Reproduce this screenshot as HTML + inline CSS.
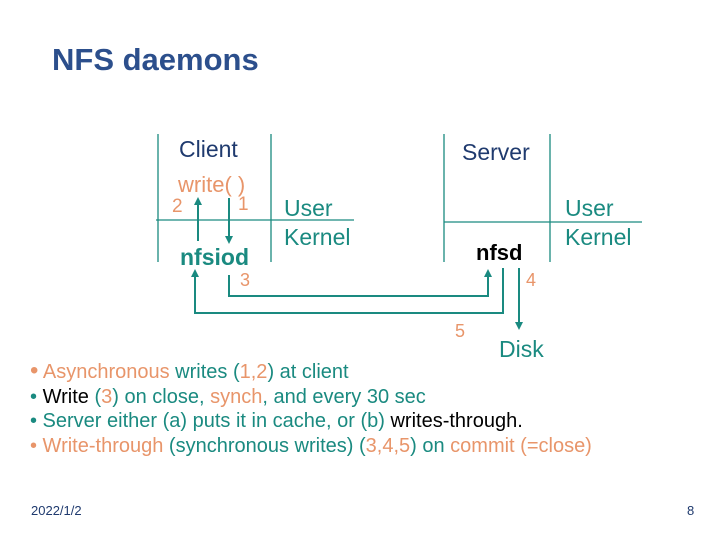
<!DOCTYPE html>
<html><head><meta charset="utf-8"><style>
body{margin:0;width:720px;height:540px;background:#fff;position:relative;overflow:hidden;font-family:"Liberation Sans",sans-serif}
.t{position:absolute;white-space:nowrap}
.tl{color:#1a8a80}.or{color:#e8956a}.nv{color:#1f3a6e}.bk{color:#000}
</style></head><body>
<div class="t" style="left:52px;top:42px;font-size:31px;font-weight:bold;color:#2c4f8c">NFS daemons</div>
<svg width="720" height="540" style="position:absolute;left:0;top:0">
<defs><marker id="a" markerWidth="8" markerHeight="8" refX="4" refY="4" orient="auto" markerUnits="userSpaceOnUse"><path d="M0,0 L8,4 L0,8 z" fill="#1a8a80"/></marker></defs>
<g stroke="#1a8a80" stroke-width="1.3" fill="none">
<line x1="158" y1="134" x2="158" y2="262"/><line x1="271" y1="134" x2="271" y2="262"/>
<line x1="156" y1="220" x2="354" y2="220"/>
<line x1="444" y1="134" x2="444" y2="262"/><line x1="550" y1="134" x2="550" y2="262"/>
<line x1="444" y1="222" x2="642" y2="222"/>
</g>
<g stroke="#1a8a80" stroke-width="2" fill="none">
<line x1="198" y1="241" x2="198" y2="201" marker-end="url(#a)"/>
<line x1="229" y1="198" x2="229" y2="240" marker-end="url(#a)"/>
<polyline points="229,275 229,296 488,296 488,273" marker-end="url(#a)"/>
<polyline points="503,268 503,313 195,313 195,273" marker-end="url(#a)"/>
<line x1="519" y1="268" x2="519" y2="326" marker-end="url(#a)"/>
</g></svg>
<div class="t nv" style="left:179px;top:136px;font-size:23px">Client</div>
<div class="t or" style="left:178px;top:172px;font-size:22px">write( )</div>
<div class="t or" style="left:172px;top:196px;font-size:19px">2</div>
<div class="t or" style="left:238px;top:194px;font-size:19px">1</div>
<div class="t tl" style="left:180px;top:244px;font-size:23px;font-weight:bold">nfsiod</div>
<div class="t or" style="left:240px;top:270px;font-size:18px">3</div>
<div class="t tl" style="left:284px;top:194px;font-size:23px;line-height:29px">User<br>Kernel</div>
<div class="t nv" style="left:462px;top:139px;font-size:23px">Server</div>
<div class="t tl" style="left:565px;top:194px;font-size:23px;line-height:29px">User<br>Kernel</div>
<div class="t bk" style="left:476px;top:240px;font-size:22px;font-weight:bold">nfsd</div>
<div class="t or" style="left:526px;top:270px;font-size:18px">4</div>
<div class="t or" style="left:455px;top:321px;font-size:18px">5</div>
<div class="t tl" style="left:499px;top:336px;font-size:23px">Disk</div>
<div class="t" style="left:30px;top:359px;font-size:20px;line-height:24.5px">
<div><span class="or" style="font-size:24px">•</span> <span class="or">Asynchronous</span> <span class="tl">writes (</span><span class="or">1,2</span><span class="tl">) at client</span></div>
<div><span class="tl">•</span> <span class="bk">Write</span> <span class="tl">(</span><span class="or">3</span><span class="tl">) on close, </span><span class="or">synch</span><span class="tl">, and every 30 sec</span></div>
<div><span class="tl">• Server either (a) puts it in cache, or (b)</span> <span class="bk">writes-through.</span></div>
<div><span class="or">• Write-through</span> <span class="tl">(synchronous writes) (</span><span class="or">3,4,5</span><span class="tl">) on</span> <span class="or">commit (=close)</span></div>
</div>
<div class="t nv" style="left:31px;top:503px;font-size:13px">2022/1/2</div>
<div class="t nv" style="left:687px;top:503px;font-size:13px">8</div>
</body></html>
